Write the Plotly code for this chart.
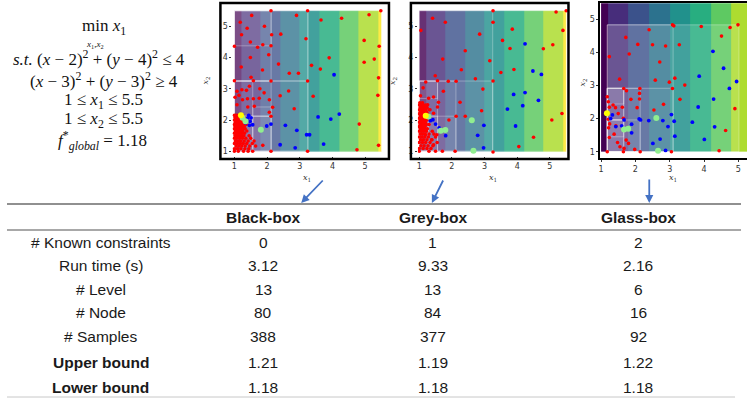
import plotly.graph_objects as go

W, H = 747, 398

# ---------------- data ----------------
BAND_EDGES = [1.0, 1.2, 1.8, 2.4, 3.0, 3.6, 4.2, 4.8, 5.4, 5.5]
Y_EDGES = [1.0, 5.5]
VIRIDIS9 = ["#440154", "#472d7b", "#3b528b", "#2c728e", "#21918c",
            "#28ae80", "#5ec962", "#addc30", "#fde725"]

# partition nodes [x0, x1, y0, y1]
P1_NODES = [[1, 5.5, 1, 5.5], [1, 3.25, 1, 5.5], [1, 3.25, 1, 3.25], [1, 3.25, 3.25, 5.5],
            [1, 2.125, 3.25, 5.5], [1, 2.125, 4.375, 5.5], [1, 2.125, 1, 3.25],
            [1, 1.5625, 1, 3.25], [1, 2.125, 1, 2.125], [1, 1.5625, 1, 2.125],
            [1.5625, 2.125, 1, 2.125], [1, 1.28, 1, 2.125], [1, 1.28, 1.5625, 2.125],
            [1.5625, 2.125, 2.125, 2.42]]
P2_NODES = [[1, 5.5, 1, 5.5], [1, 3.25, 1, 5.5], [1, 3.25, 1, 3.25], [1, 2.125, 1, 3.25],
            [1, 1.5625, 1, 3.25], [1, 1.5625, 2.6875, 3.25], [1, 2.125, 1, 2.125],
            [1, 1.5625, 1, 2.125], [1, 1.28, 1, 2.125], [1, 1.28, 1.5625, 2.125]]
P3_NODES = [[1.18, 5.02, 1, 4.83], [1.18, 3.1, 1, 4.83], [1.18, 3.1, 1, 2.915],
            [1.18, 2.14, 1, 2.915], [1.18, 1.66, 1, 2.915], [1.18, 1.66, 1.96, 2.915],
            [1.18, 2.14, 1, 1.96], [1.18, 1.66, 1, 1.96], [1.18, 1.66, 2.44, 2.915],
            [1.18, 1.66, 1.45, 1.96]]

# ---- plot 1 (black-box) samples
P1_RED_X = [2.12, 3.24, 5.48, 1.53, 2.9, 1.18, 3.65, 4.28, 5.12, 1.92, 1.39, 1.22, 2.14, 2.42, 3.19,
            4.97, 1.49, 1.87, 1.71, 1.0, 2.12, 5.43, 2.05, 1.49, 3.9, 5.28, 4.97, 2.35, 3.36, 1.21,
            1.86, 3.63, 2.96, 2.68, 5.41, 1.51, 1.0, 1.58, 2.12, 3.24, 1.46, 1.37, 1.23, 1.78, 1.91,
            2.66, 1.08, 1.14, 2.4, 3.41, 5.39, 1.02, 1.25, 1.4, 1.58, 1.76, 2.07, 1.61, 1.08, 1.41,
            2.17, 2.83, 2.07, 2.12, 4.82, 1.87, 2.12, 3.24, 4.75, 5.41, 1.0, 1.12, 1.28, 1.42, 1.56,
            # dense cluster
            1.0, 1.05, 1.1, 1.15, 1.25,
            1.02, 1.08, 1.13, 1.18, 1.23, 1.3,
            1.0, 1.05, 1.1, 1.16, 1.21, 1.27,
            1.03, 1.08, 1.14, 1.19, 1.25, 1.31,
            1.0, 1.06, 1.11, 1.17, 1.22, 1.29, 1.36,
            1.02, 1.08, 1.13, 1.19, 1.24, 1.3,
            1.0, 1.05, 1.1, 1.16, 1.21, 1.27, 1.33,
            1.03, 1.09, 1.14, 1.2, 1.26, 1.38,
            1.0, 1.06, 1.12, 1.18, 1.24, 1.31,
            1.02, 1.08, 1.15, 1.22, 1.29, 1.45,
            1.0, 1.07, 1.16, 1.25, 1.35, 1.5,
            1.03, 1.12, 1.2, 1.3, 1.42, 1.6,
            1.0, 1.09, 1.18, 1.27, 1.38, 1.55,
            1.05, 1.14, 1.23, 1.33, 1.47, 1.65,
            1.0, 1.1, 1.2, 1.32, 1.44]
P1_RED_Y = [5.5, 5.5, 5.5, 5.35, 5.35, 5.13, 5.2, 5.26, 5.37, 5.0, 4.94, 4.73, 4.73, 4.75, 4.6,
            4.55, 4.5, 4.41, 4.33, 4.36, 4.38, 4.36, 4.09, 4.0, 3.99, 3.95, 3.85, 3.79, 3.75, 3.7,
            3.6, 3.63, 3.5, 3.5, 3.35, 3.37, 3.26, 3.26, 3.25, 3.25, 3.08, 2.95, 2.97, 3.0, 2.87,
            2.93, 2.92, 2.79, 2.78, 2.76, 2.79, 2.73, 2.65, 2.68, 2.68, 2.7, 2.65, 2.44, 2.49, 2.42,
            2.41, 2.36, 2.25, 2.12, 1.87, 1.19, 1.0, 1.0, 1.05, 1.19, 1.0, 1.0, 1.0, 1.0, 1.0,
            2.15, 2.15, 2.15, 2.15, 2.15,
            2.08, 2.08, 2.08, 2.08, 2.08, 2.08,
            2.0, 2.0, 2.0, 2.0, 2.0, 2.0,
            1.93, 1.93, 1.93, 1.93, 1.93, 1.93,
            1.86, 1.86, 1.86, 1.86, 1.86, 1.86, 1.86,
            1.79, 1.79, 1.79, 1.79, 1.79, 1.79,
            1.72, 1.72, 1.72, 1.72, 1.72, 1.72, 1.72,
            1.65, 1.65, 1.65, 1.65, 1.65, 1.65,
            1.58, 1.58, 1.58, 1.58, 1.58, 1.58,
            1.5, 1.5, 1.5, 1.5, 1.5, 1.5,
            1.42, 1.42, 1.42, 1.42, 1.42, 1.42,
            1.33, 1.33, 1.33, 1.33, 1.33, 1.33,
            1.25, 1.25, 1.25, 1.25, 1.25, 1.25,
            1.17, 1.17, 1.17, 1.17, 1.17, 1.17,
            1.08, 1.08, 1.08, 1.08, 1.08]
P1_BLUE_X = [4.05, 4.21, 3.95, 3.56, 3.21, 3.30, 2.91, 2.56, 2.12, 1.99, 3.73, 2.40, 2.86,
             1.41, 1.48, 1.46, 1.56, 1.51, 1.34, 1.44]
P1_BLUE_Y = [3.45, 2.19, 2.03, 2.10, 1.53, 1.53, 1.67, 1.83, 1.87, 1.81, 1.23, 1.21, 1.11,
             2.07, 1.96, 1.83, 1.85, 2.07, 1.91, 2.15]
P1_GREEN_X = [1.81, 1.25, 1.34]
P1_GREEN_Y = [1.69, 2.07, 1.96]
P1_BEST_X = [1.2]
P1_BEST_Y = [2.15]

# ---- plot 2 (grey-box) samples
P2_RED_X = [3.26, 5.5, 5.19, 1.41, 1.8, 3.26, 1.05, 5.4, 3.85, 2.85, 3.55, 5.09, 4.8, 3.78, 2.41,
            1.72, 3.16, 3.9, 2.29, 3.5, 1.49, 2.72, 1.89, 2.13, 3.26, 1.56, 1.2, 2.95, 1.74, 2.25,
            2.91, 1.04, 1.12, 1.29, 1.44, 1.59, 1.26, 1.56, 2.13, 2.41, 1.91, 5.37, 5.06, 4.5, 4.05,
            3.26, 2.1, 1.71, 1.5, 1.3, 1.0, 1.33, 1.44, 1.19, 1.39, 1.54, 1.44,
            # dense cluster
            1.02, 1.1,
            1.0, 1.06, 1.13, 1.2,
            1.03, 1.09, 1.16, 1.24,
            1.0, 1.06, 1.12, 1.19, 1.3,
            1.03, 1.09, 1.15, 1.22,
            1.0, 1.06, 1.12, 1.18, 1.26,
            1.03, 1.09, 1.15,
            1.0, 1.06, 1.12, 1.2,
            1.03, 1.09, 1.16, 1.24,
            1.0, 1.06, 1.12, 1.19,
            1.03, 1.09, 1.15, 1.22, 1.3,
            1.0, 1.06, 1.12, 1.18,
            1.03, 1.09, 1.16, 1.25,
            1.0, 1.07, 1.14, 1.22, 1.4,
            1.03, 1.1, 1.18, 1.3, 1.45,
            1.0, 1.08, 1.17, 1.28, 1.5,
            1.04, 1.13, 1.24, 1.38,
            1.0, 1.1, 1.2, 1.33, 1.55,
            1.05, 1.15, 1.27, 1.42,
            1.0, 1.12, 1.24, 1.36]
P2_RED_Y = [5.5, 5.5, 5.46, 5.26, 5.13, 5.13, 4.87, 4.87, 4.91, 4.75, 4.55, 4.41, 4.28, 4.29, 4.22,
            3.95, 3.9, 3.62, 3.61, 3.52, 3.42, 3.32, 3.24, 3.24, 3.25, 3.26, 3.22, 2.99, 2.92, 2.57,
            2.3, 2.78, 3.03, 2.7, 2.74, 2.57, 2.49, 2.42, 2.12, 2.12, 2.0, 2.21, 2.0, 1.45, 1.15,
            0.98, 1.0, 1.0, 1.0, 1.0, 1.0, 2.33, 2.22, 1.53, 1.37, 1.53, 1.21,
            2.55, 2.55,
            2.48, 2.48, 2.48, 2.48,
            2.4, 2.4, 2.4, 2.4,
            2.33, 2.33, 2.33, 2.33, 2.33,
            2.26, 2.26, 2.26, 2.26,
            2.2, 2.2, 2.2, 2.2, 2.2,
            2.13, 2.13, 2.13,
            2.06, 2.06, 2.06, 2.06,
            2.0, 2.0, 2.0, 2.0,
            1.93, 1.93, 1.93, 1.93,
            1.86, 1.86, 1.86, 1.86, 1.86,
            1.79, 1.79, 1.79, 1.79,
            1.72, 1.72, 1.72, 1.72,
            1.64, 1.64, 1.64, 1.64, 1.64,
            1.55, 1.55, 1.55, 1.55, 1.55,
            1.46, 1.46, 1.46, 1.46, 1.46,
            1.37, 1.37, 1.37, 1.37,
            1.28, 1.28, 1.28, 1.28, 1.28,
            1.18, 1.18, 1.18, 1.18,
            1.09, 1.09, 1.09, 1.09]
P2_BLUE_X = [4.24, 4.48, 4.74, 3.89, 4.24, 4.65, 4.17, 3.7, 3.95, 2.98, 2.79, 2.97, 1.81, 1.61,
             1.5, 1.42, 1.34]
P2_BLUE_Y = [4.44, 3.57, 3.46, 2.82, 2.88, 2.63, 2.46, 2.35, 1.81, 1.83, 1.51, 1.11, 1.5, 1.75,
             1.87, 2.01, 1.98]
P2_GREEN_X = [1.28, 2.61, 1.8, 1.66, 2.66]
P2_GREEN_Y = [2.11, 1.99, 1.68, 1.66, 1.02]
P2_BEST_X = [1.2]
P2_BEST_Y = [2.14]

# ---- plot 3 (glass-box) samples
P3_RED_X = [3.08, 3.12, 3.92, 4.76, 4.99, 2.4, 4.51, 1.72, 2.07, 2.5, 2.88, 3.28, 1.82, 1.24, 2.71,
            3.15, 2.58, 2.99, 1.54, 3.44, 2.13, 1.66, 3.08, 1.74, 2.12, 1.18, 1.87, 2.12, 3.3, 4.9,
            1.21, 1.24, 1.42, 1.62, 1.5, 2.05, 2.82, 2.54, 1.21, 1.25, 1.22, 1.43, 1.65, 4.63, 1.24,
            1.38, 1.73, 1.8, 1.48, 1.55, 1.67, 1.98, 4.44, 1.18, 1.65, 2.14, 3.05, 1.35]
P3_RED_Y = [4.83, 4.8, 4.78, 4.75, 4.83, 4.68, 4.49, 4.45, 4.24, 4.23, 4.19, 4.23, 3.95, 3.87, 3.71,
            3.22, 3.16, 3.1, 3.19, 3.01, 2.91, 2.91, 2.91, 2.84, 2.76, 2.66, 2.58, 2.59, 2.58, 2.3,
            2.51, 2.34, 2.33, 2.34, 2.15, 2.33, 2.43, 2.26, 1.98, 1.84, 1.72, 1.78, 2.01, 1.64, 1.43,
            1.53, 1.35, 1.25, 1.28, 1.15, 1.1, 1.07, 1.03, 1.0, 1.0, 1.0, 1.0, 2.41]
P3_BLUE_X = [4.26, 4.57, 4.95, 3.86, 4.74, 4.28, 3.83, 3.05, 3.13, 2.8, 2.95, 3.66, 4.31, 3.15,
             4.01, 2.72, 2.51, 2.88, 2.11, 2.15, 2.39, 1.89, 1.89, 1.67, 1.6, 1.43, 1.33, 1.28]
P3_BLUE_Y = [4.03, 3.52, 3.12, 3.28, 2.91, 2.59, 2.35, 2.12, 1.92, 1.94, 1.76, 1.89, 1.75, 1.47,
             1.37, 1.38, 1.25, 1.04, 1.99, 1.96, 1.94, 1.83, 1.57, 1.96, 1.78, 1.76, 2.11, 2.0]
P3_GREEN_X = [2.61, 1.79, 1.67, 2.66]
P3_GREEN_Y = [2.02, 1.69, 1.67, 1.03]
P3_BEST_X = [1.17]
P3_BEST_Y = [2.16]

FORMULA = [
    "min <i>x</i><sub>1</sub>",
    "<i>s.t.</i> (<i>x</i> − 2)<sup>2</sup> + (<i>y</i> − 4)<sup>2</sup> ≤ 4",
    "(<i>x</i> − 3)<sup>2</sup> + (<i>y</i> − 3)<sup>2</sup> ≥ 4",
    "1 ≤ <i>x</i><sub>1</sub> ≤ 5.5",
    "1 ≤ <i>x</i><sub>2</sub> ≤ 5.5",
    "<i>f</i><sup>*</sup><sub><i>global</i></sub> = 1.18",
]

TABLE_COLS = ["Black-box", "Grey-box", "Glass-box"]
TABLE_ROWS = ["# Known constraints", "Run time (s)", "# Level", "# Node", "# Samples",
              "<b>Upper bound</b>", "<b>Lower bound</b>"]
TABLE_VALUES = [["0", "1", "2"],
                ["3.12", "9.33", "2.16"],
                ["13", "13", "6"],
                ["80", "84", "16"],
                ["388", "377", "92"],
                ["1.21", "1.19", "1.22"],
                ["1.18", "1.18", "1.18"]]

# ---------------- layout helpers ----------------
def px(x):
    return x / W

def py(y):
    return 1 - y / H

fig = go.Figure()

PANELS = [
    dict(ax="", dom_x=(231, 384), dom_y=(8, 156), xr=(0.939, 5.607), yr=(0.85, 5.586),
         nodes=P1_NODES, red=(P1_RED_X, P1_RED_Y), blue=(P1_BLUE_X, P1_BLUE_Y),
         green=(P1_GREEN_X, P1_GREEN_Y), best=(P1_BEST_X, P1_BEST_Y), spines=False),
    dict(ax="2", dom_x=(417, 569), dom_y=(8, 156), xr=(0.96, 5.6), yr=(0.85, 5.586),
         nodes=P2_NODES, red=(P2_RED_X, P2_RED_Y), blue=(P2_BLUE_X, P2_BLUE_Y),
         green=(P2_GREEN_X, P2_GREEN_Y), best=(P2_BEST_X, P2_BEST_Y), spines=False),
    dict(ax="3", dom_x=(600, 747), dom_y=(3.3, 158), xr=(0.98, 5.253), yr=(0.81, 5.48),
         nodes=P3_NODES, red=(P3_RED_X, P3_RED_Y), blue=(P3_BLUE_X, P3_BLUE_Y),
         green=(P3_GREEN_X, P3_GREEN_Y), best=(P3_BEST_X, P3_BEST_Y), spines=True),
]

ncol = len(BAND_EDGES) - 1
zrow = [list(range(ncol))]
cscale = []
for i, c in enumerate(VIRIDIS9):
    cscale.append([i / ncol, c])
    cscale.append([(i + 1) / ncol, c])

tickfont = dict(family="DejaVu Sans", size=8, color="#333333")

for p in PANELS:
    xa, ya = "x" + p["ax"], "y" + p["ax"]
    fig.add_trace(go.Heatmap(x=BAND_EDGES, y=Y_EDGES, z=zrow, colorscale=cscale,
                             zmin=-0.5, zmax=ncol - 0.5, showscale=False,
                             hoverinfo="skip", xaxis=xa, yaxis=ya))
    for k, n in enumerate(p["nodes"]):
        x0, x1, y0, y1 = n
        alpha = 0.15 if k == 0 else 0.05
        fig.add_trace(go.Scatter(x=[x0, x1, x1, x0, x0], y=[y0, y0, y1, y1, y0],
                                 mode="lines", fill="toself",
                                 fillcolor="rgba(255,255,255,%.2f)" % alpha,
                                 line=dict(color="rgba(255,255,255,0.3)", width=1),
                                 hoverinfo="skip", showlegend=False, xaxis=xa, yaxis=ya))
    for key, col, size in [("red", "#ff0000", 3.6), ("blue", "#0000ff", 3.8),
                           ("green", "#90ee90", 6), ("best", "#ffff00", 6)]:
        xs, ys = p[key]
        fig.add_trace(go.Scatter(x=xs, y=ys, mode="markers",
                                 marker=dict(color=col, size=size, line=dict(width=0)),
                                 showlegend=False, hoverinfo="skip", xaxis=xa, yaxis=ya))
    sp = p["spines"]
    fig.layout["xaxis" + p["ax"]] = dict(
        domain=[px(p["dom_x"][0]), px(p["dom_x"][1])], range=list(p["xr"]),
        anchor=ya, tickvals=[1, 2, 3, 4, 5], tickfont=tickfont, showgrid=False,
        zeroline=False, ticks="outside", ticklen=2, tickcolor="#333",
        ticklabeloverflow="allow",
        showline=sp, linecolor="black", linewidth=2, mirror=sp)
    fig.layout["yaxis" + p["ax"]] = dict(
        domain=[py(p["dom_y"][1]), py(p["dom_y"][0])], range=list(p["yr"]),
        anchor=xa, tickvals=[1, 2, 3, 4, 5], tickfont=tickfont, showgrid=False,
        zeroline=False, ticks="outside", ticklen=2, tickcolor="#333",
        ticklabeloverflow="allow",
        showline=sp, linecolor="black", linewidth=2)

annotations = []
shapes = []

def note(xc, yc, text, font, **kw):
    d = dict(x=px(xc), y=py(yc), xref="paper", yref="paper", text=text,
             showarrow=False, font=font, xanchor="center", yanchor="middle")
    d.update(kw)
    annotations.append(d)

# frames around panels 1 and 2
for (x0, y0, x1, y1) in [(219, 3, 388, 159), (410, 3, 568, 159)]:
    shapes.append(dict(type="rect", xref="paper", yref="paper", x0=px(x0), x1=px(x1),
                       y0=py(y1), y1=py(y0), line=dict(color="black", width=2.5)))

# axis labels
lab_font = dict(family="DejaVu Serif", size=8, color="#333")
for xc in [306, 492, 673]:
    note(xc, 178, "<i>x</i><sub>1</sub>", lab_font)
for xc, yc in [(205, 80), (392, 80), (583, 82)]:
    note(xc, yc, "<i>x</i><sub>2</sub>", lab_font, textangle=-90)

# formula block
f_font = dict(family="Liberation Serif", size=17, color="#111")
f_pos = [(102, 27), (97, 58), (102, 80), (102, 101), (102, 120), (101, 140)]
for txt, (xc, yc) in zip(FORMULA, f_pos):
    note(xc, yc, txt, f_font)
note(93, 45, "<i>x</i><sub>1</sub>,<i>x</i><sub>2</sub>",
     dict(family="Liberation Serif", size=9, color="#111"))

# arrows
for (hx, hy, tx, ty) in [(300, 203, 323, 179), (431, 203, 443, 179), (649, 203, 649, 178)]:
    annotations.append(dict(x=px(hx), y=py(hy), xref="paper", yref="paper", text="",
                            showarrow=True, ax=tx - hx, ay=ty - hy, arrowhead=2,
                            arrowsize=0.9, arrowwidth=1.8, arrowcolor="#4472c4"))

# table
col_x = [262, 432, 638]
row_y = [242.5, 265.5, 289, 312.5, 336.5, 362.5, 387]
t_font = dict(family="Liberation Sans, Arial", size=15.5, color="#1a1a1a")
for name, xc in zip(TABLE_COLS, col_x):
    note(xc, 217.5, "<b>" + name + "</b>", t_font)
for r, (label, yc) in enumerate(zip(TABLE_ROWS, row_y)):
    note(99, yc, label, t_font)
    for c, xc in enumerate(col_x):
        note(xc, yc, TABLE_VALUES[r][c], t_font)

shapes.append(dict(type="line", xref="paper", yref="paper", x0=px(5), x1=px(741),
                   y0=py(204), y1=py(204), line=dict(color="#222", width=1.2)))
shapes.append(dict(type="line", xref="paper", yref="paper", x0=px(5), x1=px(741),
                   y0=py(230), y1=py(230), line=dict(color="#a8a8a8", width=2)))
shapes.append(dict(type="line", xref="paper", yref="paper", x0=px(5), x1=px(735),
                   y0=py(397), y1=py(397), line=dict(color="#c8c8c8", width=1)))

fig.update_layout(width=W, height=H, margin=dict(l=0, r=0, t=0, b=0),
                  paper_bgcolor="white", plot_bgcolor="white", showlegend=False,
                  annotations=annotations, shapes=shapes)

fig.write_html("out.html", config={"displayModeBar": False},
               post_script="document.body.style.margin='0';document.body.style.overflow='hidden';")
